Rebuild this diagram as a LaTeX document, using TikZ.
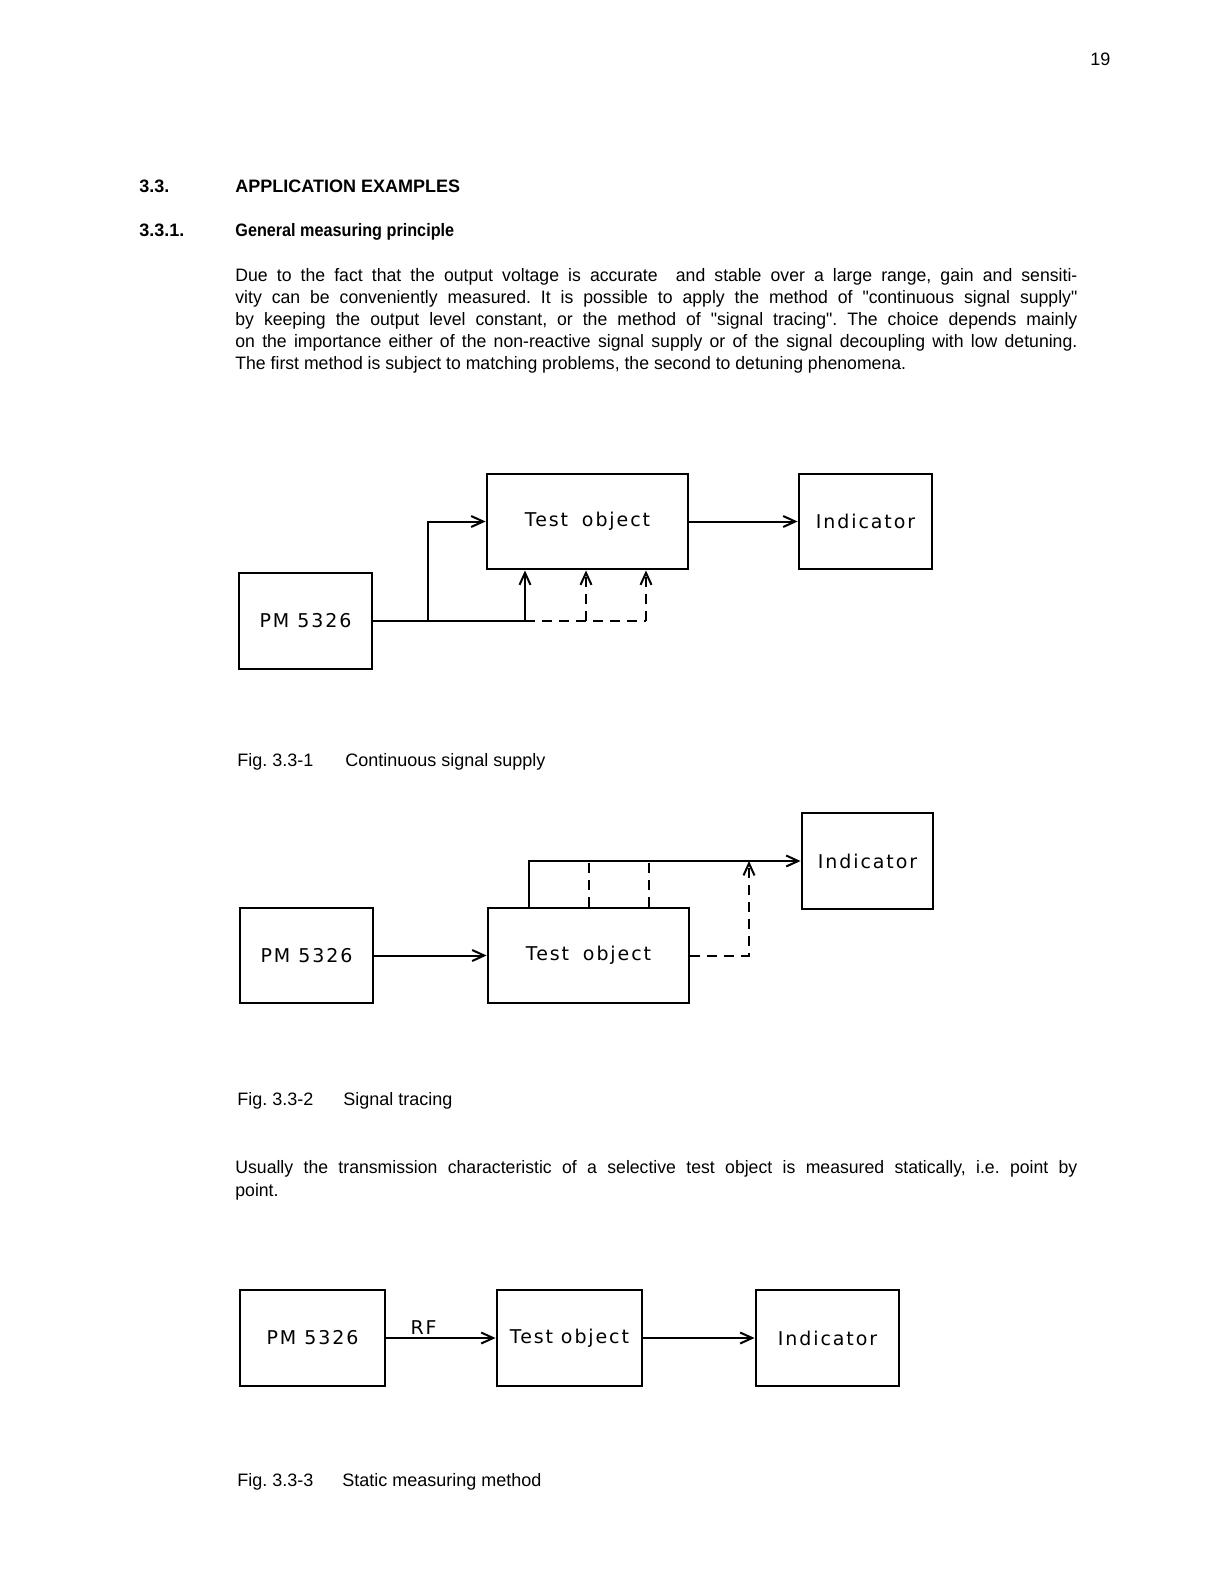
\documentclass[tikz,border=0pt]{standalone}
\usepackage{fontspec}
\setmainfont{Liberation Sans}
\newfontfamily\bodyfont[FakeStretch=0.98]{Liberation Sans}
\newfontfamily\subheadfont[FakeStretch=0.9]{Liberation Sans}
\newfontfamily\labelfont[LetterSpace=10]{DejaVu Sans}
\usetikzlibrary{arrows.meta}
\frenchspacing
\begin{document}
\begin{tikzpicture}[x=0.5pt,y=-0.5pt,
  box/.style={draw, line width=1.45pt, inner sep=0pt, font=\labelfont\fontsize{9.5}{11}\selectfont},
  conn/.style={line width=1pt},
  arr/.style={-{Straight Barb[length=6pt,width=5.5pt,line width=1pt]}},
  dsh/.style={dash pattern=on 5pt off 3.5pt},
  txt/.style={anchor=base west, inner sep=0pt, font=\fontsize{9}{11}\selectfont},
  hd/.style={anchor=base west, inner sep=0pt, font=\bfseries\fontsize{9}{11}\selectfont},
  body/.style={anchor=base west, inner sep=0pt, font=\bodyfont\fontsize{9}{11}\selectfont},
  lbl/.style={inner sep=1.5pt, font=\labelfont\fontsize{9.5}{11}\selectfont}]
\fill[white] (0,0) rectangle (1224,1584);
\useasboundingbox (0,0) rectangle (1224,1584);

% page header and text
\node[txt] (pg) at (1090,66) {19};
\node[hd] (h1n) at (139,192) {3.3.};
\node[hd] (h1) at (235,192) {APPLICATION EXAMPLES};
\node[hd] (h2n) at (139,236) {3.3.1.};
\node[body,font=\subheadfont\bfseries\fontsize{9}{11}\selectfont] (h2) at (235,236) {General measuring principle};

\node[body] (p1) at (235,281) {\makebox[421pt][s]{Due to the fact that the output voltage is accurate \ and stable over a large range, gain and sensiti-}};
\node[body] (p2) at (235,303.2) {\makebox[421pt][s]{vity can be conveniently measured. It is possible to apply the method of "continuous signal supply"}};
\node[body] (p3) at (235,325.4) {\makebox[421pt][s]{by keeping the output level constant, or the method of "signal tracing". The choice depends mainly}};
\node[body] (p4) at (235,347.6) {\makebox[421pt][s]{on the importance either of the non-reactive signal supply or of the signal decoupling with low detuning.}};
\node[body] (p5) at (235,369.8) {The first method is subject to matching problems, the second to detuning phenomena.};

% ---------- Fig 1 ----------
\node[box, minimum width=66.5pt, minimum height=48pt] (pm1) at (305.5,621) {PM 5326};
\node[box, minimum width=100.5pt, minimum height=47.5pt] (to1) at (587.5,521.5) {Test\hspace{3pt} object};
\node[box, minimum width=66.5pt, minimum height=47.5pt] (in1) at (865.5,521.5) {Indicator};
\coordinate (j1) at (428,621);
\coordinate (t1) at (525,621);
\coordinate (t2) at (586,621);
\coordinate (t3) at (646,621);
\draw[conn] (pm1.east) -- (t1);
\draw[conn,arr] (j1) |- (to1.west);
\draw[conn,arr] (to1.east) -- (in1.west);
\draw[conn,arr] (t1) -- (t1 |- to1.south);
\draw[conn,dsh] (t1) -- (t3);
\draw[conn,dsh,arr] (t2) -- (t2 |- to1.south);
\draw[conn,dsh,arr] (t3) -- (t3 |- to1.south);

\node[txt] (c1a) at (237,766) {Fig. 3.3-1};
\node[txt] (c1b) at (345,766) {Continuous signal supply};

% ---------- Fig 2 ----------
\node[box, minimum width=65.5pt, minimum height=48pt] (in2) at (867.5,861) {Indicator};
\node[box, minimum width=66.5pt, minimum height=47.5pt] (pm2) at (306.5,955.5) {PM 5326};
\node[box, minimum width=100.5pt, minimum height=47.5pt] (to2) at (588.5,955.5) {Test\hspace{3pt} object};
\coordinate (u1) at (529,861);
\coordinate (u2) at (589,861);
\coordinate (u3) at (649,861);
\coordinate (u4) at (749,861);
\coordinate (d4) at (749,955.5);
\draw[conn,arr] (pm2.east) -- (to2.west);
\draw[conn,arr] (u1 |- to2.north) -- (u1) -- (in2.west);
\draw[conn,dsh] (u2 |- to2.north) -- (u2);
\draw[conn,dsh] (u3 |- to2.north) -- (u3);
\draw[conn,dsh,arr] (to2.east) -- (d4) -- (u4);

\node[txt] (c2a) at (237,1105) {Fig. 3.3-2};
\node[txt] (c2b) at (343,1105) {Signal tracing};

\node[body] (q1) at (235,1173) {\makebox[421pt][s]{Usually the transmission characteristic of a selective test object is measured statically, i.e. point by}};
\node[body] (q2) at (235,1196) {point.};

% ---------- Fig 3 ----------
\node[box, minimum width=72.5pt, minimum height=48pt] (pm3) at (312.5,1338) {PM 5326};
\node[box, minimum width=72.5pt, minimum height=48pt] (to3) at (569.5,1338) {Test object};
\node[box, minimum width=71.5pt, minimum height=48pt] (in3) at (827.5,1338) {Indicator};
\draw[conn,arr] (pm3.east) -- node[lbl, above, pos=0.34] (rf) {RF} (to3.west);
\draw[conn,arr] (to3.east) -- (in3.west);

\node[txt] (c3a) at (237,1486) {Fig. 3.3-3};
\node[txt] (c3b) at (342,1486) {Static measuring method};
\end{tikzpicture}
\end{document}
